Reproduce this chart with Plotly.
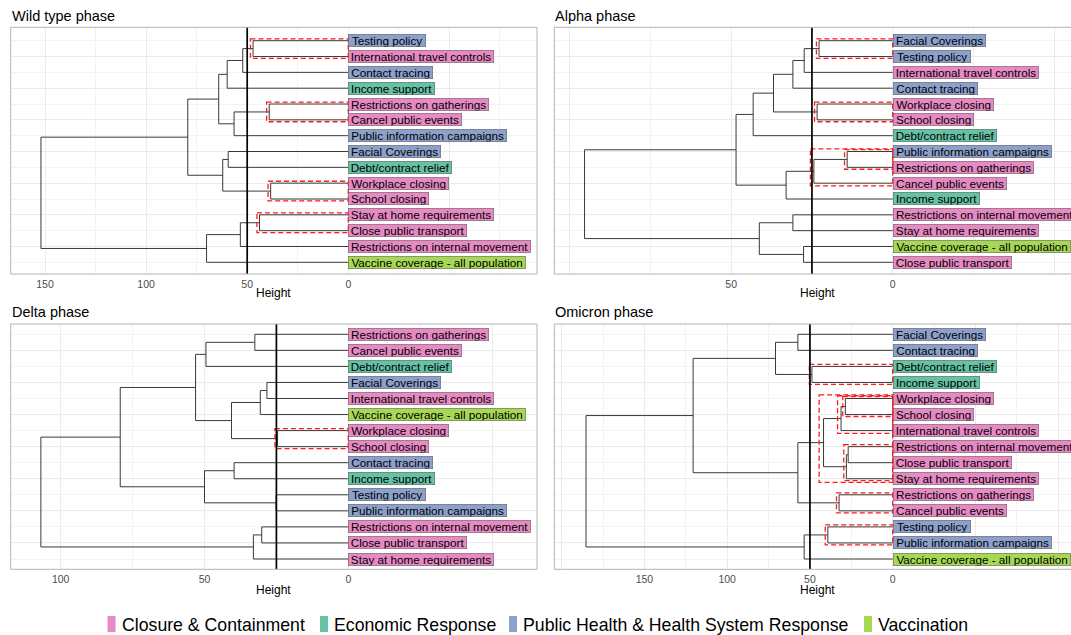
import plotly.graph_objects as go

W, H = 1071, 635
FONT = "Liberation Sans, Arial, Helvetica, sans-serif"

# ---------------- data ----------------
categories = ["Closure & Containment", "Economic Response",
              "Public Health & Health System Response", "Vaccination"]
category_colors = ["#E78AC3", "#66C2A5", "#8DA0CB", "#A6D854"]

policy_names = ["Testing policy", "International travel controls", "Contact tracing",
                "Income support", "Restrictions on gatherings", "Cancel public events",
                "Public information campaigns", "Facial Coverings", "Debt/contract relief",
                "Workplace closing", "School closing", "Stay at home requirements",
                "Close public transport", "Restrictions on internal movement",
                "Vaccine coverage - all population"]
policy_category = [2, 0, 2, 1, 0, 0, 2, 2, 1, 0, 0, 0, 0, 0, 3]

# leaf order (top to bottom) and merges (child a, child b, height); leaves are 0..14,
# merged nodes are numbered 15, 16, ... in merge order
wild_leaves = ["Testing policy", "International travel controls", "Contact tracing",
               "Income support", "Restrictions on gatherings", "Cancel public events",
               "Public information campaigns", "Facial Coverings", "Debt/contract relief",
               "Workplace closing", "School closing", "Stay at home requirements",
               "Close public transport", "Restrictions on internal movement",
               "Vaccine coverage - all population"]
wild_merges = [(0, 1, 47.1), (15, 2, 52.2), (16, 3, 59.9), (4, 5, 39.1), (18, 6, 56.5),
               (17, 19, 64.1), (7, 8, 59.4), (9, 10, 38.4), (21, 22, 62.1), (20, 23, 79.4),
               (11, 12, 43.9), (25, 13, 53.4), (26, 14, 70.1), (24, 27, 152.0)]
wild_boxes = [15, 18, 22, 25]
wild_cut = 50

alpha_leaves = ["Facial Coverings", "Testing policy", "International travel controls",
                "Contact tracing", "Workplace closing", "School closing", "Debt/contract relief",
                "Public information campaigns", "Restrictions on gatherings",
                "Cancel public events", "Income support", "Restrictions on internal movement",
                "Stay at home requirements", "Vaccine coverage - all population",
                "Close public transport"]
alpha_merges = [(0, 1, 22.8), (15, 2, 27.4), (16, 3, 30.9), (4, 5, 23.4), (17, 18, 36.9),
                (19, 6, 43.2), (7, 8, 14.1), (21, 9, 24.4), (22, 10, 33.0), (20, 23, 48.5),
                (11, 12, 30.9), (13, 14, 27.6), (25, 26, 41.3), (24, 27, 95.4)]
alpha_boxes = [15, 18, 21, 22]
alpha_cut = 25

delta_leaves = ["Restrictions on gatherings", "Cancel public events", "Debt/contract relief",
                "Facial Coverings", "International travel controls",
                "Vaccine coverage - all population", "Workplace closing", "School closing",
                "Contact tracing", "Income support", "Testing policy",
                "Public information campaigns", "Restrictions on internal movement",
                "Close public transport", "Stay at home requirements"]
delta_merges = [(0, 1, 32.5), (15, 2, 49.5), (3, 4, 28.3), (17, 5, 30.6), (6, 7, 24.6),
                (18, 19, 40.6), (16, 20, 53.1), (8, 9, 39.7), (10, 11, 25.1), (22, 23, 50.0),
                (21, 24, 79.3), (12, 13, 30.1), (26, 14, 33.0), (25, 27, 106.9)]
delta_boxes = [19]
delta_cut = 25

omicron_leaves = ["Facial Coverings", "Contact tracing", "Debt/contract relief",
                  "Income support", "Workplace closing", "School closing",
                  "International travel controls", "Restrictions on internal movement",
                  "Close public transport", "Stay at home requirements",
                  "Restrictions on gatherings", "Cancel public events", "Testing policy",
                  "Public information campaigns", "Vaccine coverage - all population"]
omicron_merges = [(0, 1, 57.3), (2, 3, 48.8), (15, 16, 70.8), (4, 5, 28.6), (18, 6, 31.2),
                  (7, 8, 26.9), (20, 9, 28.0), (19, 21, 41.8), (10, 11, 32.4), (22, 23, 57.3),
                  (17, 24, 120.6), (12, 13, 39.2), (26, 14, 53.5), (25, 27, 185.3)]
omicron_boxes = [16, 18, 19, 21, 22, 23, 26]
omicron_cut = 50

phase_titles = ["Wild type phase", "Alpha phase", "Delta phase", "Omicron phase"]

# ---------------- helpers ----------------
HELV = {' ': 278, '&': 667, '-': 333, '/': 278,
        'A': 667, 'B': 667, 'C': 722, 'D': 722, 'E': 667, 'F': 611, 'G': 778, 'H': 722,
        'I': 278, 'J': 500, 'K': 667, 'L': 556, 'M': 833, 'N': 722, 'O': 778, 'P': 667,
        'Q': 778, 'R': 722, 'S': 667, 'T': 611, 'U': 722, 'V': 667, 'W': 944, 'X': 667,
        'Y': 667, 'Z': 611,
        'a': 556, 'b': 556, 'c': 500, 'd': 556, 'e': 556, 'f': 278, 'g': 556, 'h': 556,
        'i': 222, 'j': 222, 'k': 500, 'l': 222, 'm': 833, 'n': 556, 'o': 556, 'p': 556,
        'q': 556, 'r': 333, 's': 500, 't': 278, 'u': 556, 'v': 500, 'w': 722, 'x': 500,
        'y': 500, 'z': 500}

LABEL_SIZE = 11.7


def text_width(s, size):
    return sum(HELV.get(c, 556) for c in s) * size / 1000.0


def tree_layout(n, merges):
    pos = [float(i) for i in range(n)]
    hgt = [0.0] * n
    members = [{i} for i in range(n)]
    xs, ys = [], []
    for a, b, h in merges:
        xs += [hgt[a], h, h, hgt[b], None]
        ys += [pos[a], pos[a], pos[b], pos[b], None]
        pos.append((pos[a] + pos[b]) / 2.0)
        hgt.append(h)
        members.append(members[a] | members[b])
    return xs, ys, hgt, members


# pixel geometry of each panel (style, not data)
geom = [
    dict(x0=10.7, x1=537.0, full_x1=537.0, zero=348.3, ppu=2.022, y0=27.3, y1=274.0, row0=40.7, step=15.83, ty=16.2, hy=293.3),
    dict(x0=554.3, x1=1071.0, full_x1=1080.6, zero=892.7, ppu=3.23, y0=27.3, y1=274.0, row0=40.7, step=15.83, ty=16.2, hy=293.3),
    dict(x0=10.7, x1=537.0, full_x1=537.0, zero=348.3, ppu=2.876, y0=324.0, y1=569.3, row0=334.3, step=16.05, ty=312.4, hy=589.5),
    dict(x0=554.3, x1=1071.0, full_x1=1080.6, zero=892.7, ppu=1.655, y0=324.0, y1=569.3, row0=334.3, step=16.05, ty=312.4, hy=589.5),
]

panel_data = [
    (wild_leaves, wild_merges, wild_boxes, wild_cut),
    (alpha_leaves, alpha_merges, alpha_boxes, alpha_cut),
    (delta_leaves, delta_merges, delta_boxes, delta_cut),
    (omicron_leaves, omicron_merges, omicron_boxes, omicron_cut),
]

fig = go.Figure()
layout = dict(width=W, height=H, margin=dict(l=0, r=0, t=0, b=0),
              paper_bgcolor="white", plot_bgcolor="white", showlegend=False,
              font=dict(family=FONT, color="black"))
shapes, annotations = [], []
cat_of = dict(zip(policy_names, policy_category))

for k, ((leaves, merges, boxes, cut), g, title) in enumerate(zip(panel_data, geom, phase_titles)):
    sfx = "" if k == 0 else str(k + 1)
    xname, yname = "x" + sfx, "y" + sfx
    n = len(leaves)
    xs, ys, hgt, members = tree_layout(n, merges)

    xlo = (g["zero"] - g["x0"]) / g["ppu"]
    xhi = (g["zero"] - g["x1"]) / g["ppu"]
    top = -(g["row0"] - g["y0"]) / g["step"]
    bot = (g["y1"] - g["row0"]) / g["step"]

    maxh = max(hgt)
    majors = [v for v in range(-300, 301, 50)]
    tickvals = [v for v in majors if xhi - 1 <= v <= xlo + 1]
    ticktext = [str(v) if 0 <= v <= maxh else "" for v in tickvals]
    minors = [v for v in range(-275, 300, 50) if xhi <= v <= xlo]
    minors += [v for v in tickvals if v > maxh]

    layout["xaxis" + sfx] = dict(
        domain=[g["x0"] / W, g["x1"] / W], range=[xlo, xhi], anchor=yname,
        tickmode="array", tickvals=tickvals, ticktext=ticktext,
        showgrid=True, gridcolor="#EBEBEB", gridwidth=1,
        minor=dict(tickvals=minors, showgrid=True, gridcolor="#F2F2F2", gridwidth=0.7),
        zeroline=False, showline=False, ticks="", ticklabelstandoff=2,
        tickfont=dict(size=10.5, color="#4D4D4D", family=FONT), fixedrange=True)
    layout["yaxis" + sfx] = dict(
        domain=[1 - g["y1"] / H, 1 - g["y0"] / H], range=[bot, top], anchor=xname,
        tickmode="array", tickvals=list(range(1, n, 2)), showticklabels=False,
        showgrid=True, gridcolor="#EBEBEB", gridwidth=1,
        minor=dict(tickvals=list(range(0, n, 2)), showgrid=True, gridcolor="#F4F4F4", gridwidth=0.6),
        zeroline=False, showline=False, ticks="", fixedrange=True)

    # dendrogram branches
    fig.add_trace(go.Scatter(x=xs, y=ys, mode="lines", xaxis=xname, yaxis=yname,
                             line=dict(color="#3A3A3A", width=1), hoverinfo="skip",
                             showlegend=False))

    # red dashed boxes around clusters below the cut
    def depth(node):
        inner = [b for b in boxes if b != node and members[b] < members[node]]
        return 0 if not inner else 1 + max(depth(b) for b in inner)

    for b in boxes:
        d = depth(b)
        m = 0.12 + 0.05 * d
        off = (2.6 + 0.9 * d) / g["ppu"]
        lo, hi = min(members[b]), max(members[b])
        shapes.append(dict(type="rect", xref=xname, yref=yname, x0=hgt[b] + off, x1=0,
                           y0=lo - m, y1=hi + m, line=dict(color="#FF1A1A", width=1.3, dash="5px,3px"),
                           fillcolor="rgba(0,0,0,0)", layer="above"))

    # cut line
    shapes.append(dict(type="line", xref=xname, yref=yname + " domain", x0=cut, x1=cut, y0=0, y1=1,
                       line=dict(color="black", width=1.7), layer="above"))

    # leaf labels
    for i, name in enumerate(leaves):
        c = cat_of[name]
        annotations.append(dict(
            x=0, y=i, xref=xname, yref=yname, text=name, showarrow=False,
            xanchor="left", yanchor="middle", align="center", valign="middle",
            width=round(text_width(name, LABEL_SIZE) + 5), height=11.8,
            bgcolor=category_colors[c], bordercolor="rgba(60,60,60,0.75)",
            borderwidth=0.6, borderpad=0,
            font=dict(size=LABEL_SIZE, color="black", family=FONT)))

    # panel title
    annotations.append(dict(x=g["x0"] / W - 0.0009, y=1 - g["ty"] / H, xref="paper", yref="paper",
                            text=title, showarrow=False, xanchor="left", yanchor="middle",
                            font=dict(size=14.5, color="black", family=FONT)))
    # axis title
    annotations.append(dict(x=(g["x0"] + g["full_x1"]) / 2 / W, y=1 - g["hy"] / H,
                            xref="paper", yref="paper", text="Height", showarrow=False,
                            xanchor="center", yanchor="middle",
                            font=dict(size=12, color="black", family=FONT)))
    # panel border
    shapes.append(dict(type="rect", xref="paper", yref="paper",
                       x0=g["x0"] / W, x1=g["full_x1"] / W, y0=1 - g["y1"] / H, y1=1 - g["y0"] / H,
                       line=dict(color="#B3B3B3", width=1), fillcolor="rgba(0,0,0,0)", layer="above"))

# legend (drawn manually to mimic ggplot's bottom legend)
key_x = [107.5, 320.0, 509.0, 864.0]
for cat, col, kx in zip(categories, category_colors, key_x):
    shapes.append(dict(type="rect", xref="paper", yref="paper",
                       x0=kx / W, x1=(kx + 8) / W, y0=1 - 632 / H, y1=1 - 616 / H,
                       line=dict(width=0), fillcolor=col, layer="above"))
    annotations.append(dict(x=(kx + 12) / W, y=1 - 624.5 / H, xref="paper", yref="paper",
                            text=cat, showarrow=False, xanchor="left", yanchor="middle",
                            font=dict(size=17.7, color="black", family=FONT)))

layout["shapes"] = shapes
layout["annotations"] = annotations
fig.update_layout(**layout)
fig.write_html("out.html")
